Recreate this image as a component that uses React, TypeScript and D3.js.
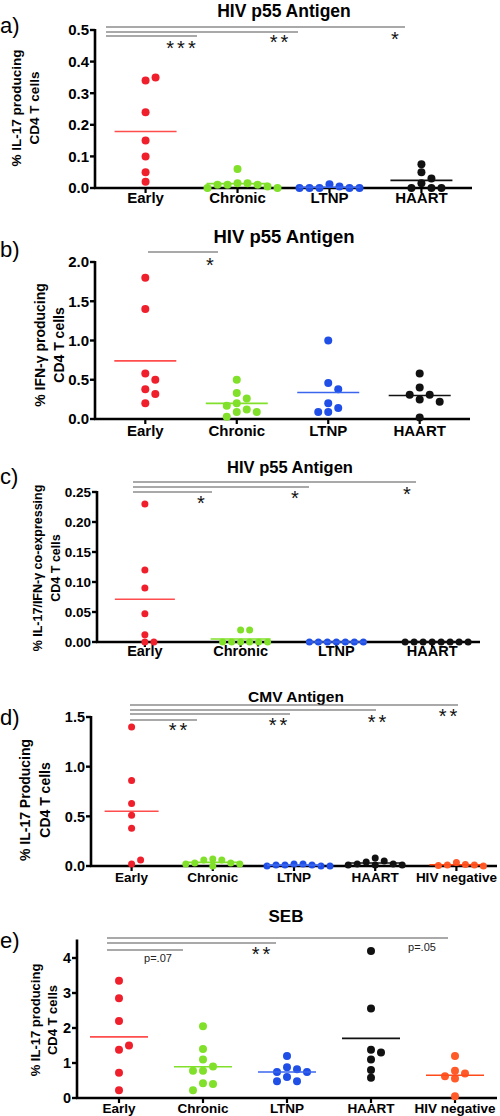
import React from "react";
import * as d3 from "d3";

const GROUPS4 = ["Early", "Chronic", "LTNP", "HAART"];
const GROUPS5 = ["Early", "Chronic", "LTNP", "HAART", "HIV negative"];
const DOT_COLORS = ["#f01f2c", "#80e02a", "#1f4fe6", "#111111", "#ff5a28"];
const MEAN_COLORS = ["#ff4d4d", "#80e02a", "#3a66ee", "#111111", "#ff4a1a"];

// a) HIV p55 – IL-17
const aEarly = [0.34, 0.35, 0.24, 0.15, 0.1, 0.05, 0.02];
const aChronic = [0.06, 0.015, 0.015, 0.01, 0.01, 0.01, 0.005, 0.0, 0.0];
const aLTNP = [0.012, 0.005, 0.0, 0.0, 0.0, 0.0, 0.0];
const aHAART = [0.075, 0.05, 0.03, 0.015, 0.0, 0.0, 0.0];
const aTicks = [0, 0.1, 0.2, 0.3, 0.4, 0.5];

// b) HIV p55 – IFN-γ
const bEarly = [1.8, 1.4, 0.58, 0.5, 0.38, 0.32, 0.2];
const bChronic = [0.5, 0.33, 0.26, 0.2, 0.17, 0.12, 0.09, 0.09, 0.03];
const bLTNP = [1.0, 0.46, 0.38, 0.2, 0.14, 0.09, 0.09];
const bHAART = [0.58, 0.4, 0.31, 0.31, 0.25, 0.22, 0.02];
const bTicks = [0, 0.5, 1.0, 1.5, 2.0];

// c) HIV p55 – IL-17/IFN-γ
const cEarly = [0.23, 0.12, 0.09, 0.047, 0.012, 0.0, 0.0];
const cChronic = [0.02, 0.02, 0.0, 0.0, 0.0, 0.0, 0.0, 0.0];
const cLTNP = [0, 0, 0, 0, 0, 0, 0];
const cHAART = [0, 0, 0, 0, 0, 0, 0, 0];
const cTicks = [0, 0.05, 0.1, 0.15, 0.2, 0.25];

// d) CMV – IL-17
const dEarly = [1.4, 0.86, 0.63, 0.51, 0.38, 0.02, 0.06];
const dChronic = [0.07, 0.06, 0.06, 0.03, 0.03, 0.02, 0.02, 0.0];
const dLTNP = [0.02, 0.02, 0.01, 0.01, 0.01, 0.0, 0.0, 0.0];
const dHAART = [0.08, 0.05, 0.04, 0.02, 0.02, 0.01, 0.01, 0.01];
const dNeg = [0.035, 0.015, 0.01, 0.01, 0.005, 0.0];
const dTicks = [0, 0.5, 1.0, 1.5];

// e) SEB – IL-17
const eEarly = [3.35, 2.85, 2.2, 1.38, 1.5, 0.72, 0.22];
const eChronic = [2.05, 1.4, 1.1, 0.9, 0.78, 0.78, 0.42, 0.4, 0.22];
const eLTNP = [1.2, 0.88, 0.82, 0.74, 0.74, 0.6, 0.48, 0.48];
const eHAART = [4.2, 2.56, 1.38, 1.3, 1.1, 0.8, 0.58];
const eNeg = [1.2, 0.78, 0.7, 0.62, 0.56, 0.05];
const eTicks = [0, 1, 2, 3, 4];

const FONT = "'Liberation Sans', Arial, Helvetica, sans-serif";

type Sig = { y: number; x2: number };
type Mark = { t: string; x: number; y: number; small?: boolean };
type PanelCfg = {
  groups: string[];
  series: number[][];
  yMax: number;
  yTopPx: number;
  yZeroPx: number;
  x0: number;
  x1: number;
  pad: number;
  ticks: number[];
  fmt: string;
  tickSize: number;
  title: string;
  titleX: number;
  titleY: number;
  titleSize: number;
  letter: string;
  letterY: number;
  labels: string[];
  labelX: number[];
  labelY: number;
  labelSize: number;
  xLabelY: number;
  xLabelSize: number;
  r: number;
  meanHalf: number;
  sigX: number;
  sigs: Sig[];
  marks: Mark[];
};

function dodge(values: number[], y: (v: number) => number, r: number, step: number) {
  const placed: { x: number; y: number }[] = [];
  return values.map((v) => {
    const py = y(v);
    for (let k = 0; k < 40; k++) {
      const off = k === 0 ? 0 : (k % 2 === 1 ? 1 : -1) * Math.ceil(k / 2) * step;
      if (placed.every((p) => Math.hypot(p.x - off, p.y - py) >= 2 * r * 0.95)) {
        placed.push({ x: off, y: py });
        return { v, dx: off, py };
      }
    }
    return { v, dx: 0, py };
  });
}

function Panel({ c }: { c: PanelCfg }) {
  const y = d3.scaleLinear().domain([0, c.yMax]).range([c.yZeroPx, c.yTopPx]);
  const x = d3.scalePoint<string>().domain(c.groups).range([c.x0, c.x1]).padding(c.pad);
  const fmt = d3.format(c.fmt);
  const y0 = y(0);
  return (
    <g fontFamily={FONT}>
      <text x={c.titleX} y={c.titleY} textAnchor="middle" fontSize={c.titleSize} fontWeight="bold">
        {c.title}
      </text>
      <text x={0} y={c.letterY} fontSize={22}>
        {c.letter}
      </text>
      {c.labels.map((l, i) => (
        <text
          key={i}
          transform={`translate(${c.labelX[i]},${c.labelY}) rotate(-90)`}
          textAnchor="middle"
          dominantBaseline="central"
          fontSize={c.labelSize}
          fontWeight="bold"
        >
          {l}
        </text>
      ))}
      {/* y axis */}
      <line x1={c.x0} x2={c.x0} y1={y(c.yMax) - 1} y2={y0} stroke="#000" strokeWidth={2.6} />
      {c.ticks.map((t) => (
        <g key={t}>
          <line x1={c.x0 - 5} x2={c.x0} y1={y(t)} y2={y(t)} stroke="#000" strokeWidth={2.4} />
          <text
            x={c.x0 - 6}
            y={y(t)}
            dy="0.36em"
            textAnchor="end"
            fontSize={c.tickSize}
            fontWeight="bold"
          >
            {fmt(t)}
          </text>
        </g>
      ))}
      {/* x axis */}
      <line x1={c.x0 - 1} x2={c.x1} y1={y0} y2={y0} stroke="#000" strokeWidth={2.6} />
      {c.groups.map((g) => (
        <g key={g}>
          <line x1={x(g)!} x2={x(g)!} y1={y0} y2={y0 + 5} stroke="#000" strokeWidth={2.2} />
          <text
            x={x(g)!}
            y={c.xLabelY}
            textAnchor="middle"
            fontSize={c.xLabelSize}
            fontWeight="bold"
          >
            {g}
          </text>
        </g>
      ))}
      {/* dots and means */}
      {c.series.map((vals, i) => {
        const cx = x(c.groups[i])!;
        const pts = dodge(vals, y, c.r, 2 * c.r + 2);
        const m = d3.mean(vals)!;
        return (
          <g key={i}>
            {pts.map((p, j) => (
              <circle key={j} cx={cx + p.dx} cy={p.py} r={c.r} fill={DOT_COLORS[i]} />
            ))}
            <line
              x1={cx - c.meanHalf}
              x2={cx + c.meanHalf}
              y1={y(m)}
              y2={y(m)}
              stroke={MEAN_COLORS[i]}
              strokeWidth={1.6}
            />
          </g>
        );
      })}
      {/* significance */}
      {c.sigs.map((s, i) => (
        <line key={i} x1={c.sigX} x2={s.x2} y1={s.y} y2={s.y} stroke="#555" strokeWidth={1.2} />
      ))}
      {c.marks.map((m, i) =>
        m.small ? (
          <text key={i} x={m.x} y={m.y + 4} textAnchor="middle" fontSize={11} fill="#222">
            {m.t}
          </text>
        ) : (
          <text
            key={i}
            x={m.x}
            dx={1.5}
            y={m.y + 11}
            textAnchor="middle"
            fontSize={20}
            letterSpacing={3}
            fill="#111"
          >
            {m.t}
          </text>
        )
      )}
    </g>
  );
}

const panels: PanelCfg[] = [
  {
    groups: GROUPS4,
    series: [aEarly, aChronic, aLTNP, aHAART],
    yMax: 0.5,
    yTopPx: 30,
    yZeroPx: 188,
    x0: 95,
    x1: 472,
    pad: 0.55,
    ticks: aTicks,
    fmt: ".1f",
    tickSize: 15,
    title: "HIV p55 Antigen",
    titleX: 284,
    titleY: 17,
    titleSize: 17.5,
    letter: "a)",
    letterY: 33,
    labels: ["% IL-17 producing", "CD4 T cells"],
    labelX: [16, 34],
    labelY: 108,
    labelSize: 13.5,
    xLabelY: 203,
    xLabelSize: 15,
    r: 4,
    meanHalf: 31,
    sigX: 106,
    sigs: [
      { y: 27, x2: 405 },
      { y: 32, x2: 298 },
      { y: 36, x2: 197 },
    ],
    marks: [
      { t: "***", x: 181, y: 44 },
      { t: "**", x: 279, y: 38 },
      { t: "*", x: 395, y: 35 },
    ],
  },
  {
    groups: GROUPS4,
    series: [bEarly, bChronic, bLTNP, bHAART],
    yMax: 2.0,
    yTopPx: 262,
    yZeroPx: 419,
    x0: 95,
    x1: 470,
    pad: 0.55,
    ticks: bTicks,
    fmt: ".1f",
    tickSize: 15,
    title: "HIV p55 Antigen",
    titleX: 284,
    titleY: 243,
    titleSize: 18.5,
    letter: "b)",
    letterY: 257,
    labels: ["% IFN-γ producing", "CD4 T cells"],
    labelX: [40, 59],
    labelY: 345,
    labelSize: 14,
    xLabelY: 436,
    xLabelSize: 15,
    r: 4,
    meanHalf: 31,
    sigX: 148,
    sigs: [{ y: 252, x2: 218 }],
    marks: [{ t: "*", x: 210, y: 261 }],
  },
  {
    groups: GROUPS4,
    series: [cEarly, cChronic, cLTNP, cHAART],
    yMax: 0.25,
    yTopPx: 492,
    yZeroPx: 642,
    x0: 97,
    x1: 480,
    pad: 0.5,
    ticks: cTicks,
    fmt: ".2f",
    tickSize: 13.5,
    title: "HIV p55 Antigen",
    titleX: 290,
    titleY: 473,
    titleSize: 16.5,
    letter: "c)",
    letterY: 484,
    labels: ["% IL-17/IFN-γ co-expressing", "CD4 T cells"],
    labelX: [38, 56],
    labelY: 568,
    labelSize: 12.5,
    xLabelY: 656,
    xLabelSize: 14.5,
    r: 3.5,
    meanHalf: 30,
    sigX: 133,
    sigs: [
      { y: 482, x2: 416 },
      { y: 487, x2: 309 },
      { y: 492, x2: 212 },
    ],
    marks: [
      { t: "*", x: 201, y: 499 },
      { t: "*", x: 295, y: 494 },
      { t: "*", x: 407, y: 490 },
    ],
  },
  {
    groups: GROUPS5,
    series: [dEarly, dChronic, dLTNP, dHAART, dNeg],
    yMax: 1.5,
    yTopPx: 717,
    yZeroPx: 866,
    x0: 91,
    x1: 497,
    pad: 0.5,
    ticks: dTicks,
    fmt: ".1f",
    tickSize: 14.5,
    title: "CMV Antigen",
    titleX: 296,
    titleY: 702,
    titleSize: 15.5,
    letter: "d)",
    letterY: 725,
    labels: ["% IL-17 Producing", "CD4 T cells"],
    labelX: [25, 45],
    labelY: 800,
    labelSize: 14,
    xLabelY: 882,
    xLabelSize: 13.5,
    r: 3.5,
    meanHalf: 27,
    sigX: 130,
    sigs: [
      { y: 705, x2: 458 },
      { y: 710, x2: 376 },
      { y: 714, x2: 290 },
      { y: 720, x2: 197 },
    ],
    marks: [
      { t: "**", x: 178, y: 726 },
      { t: "**", x: 278, y: 721 },
      { t: "**", x: 377, y: 718 },
      { t: "**", x: 448, y: 712 },
    ],
  },
  {
    groups: GROUPS5,
    series: [eEarly, eChronic, eLTNP, eHAART, eNeg],
    yMax: 4.5,
    yTopPx: 940.5,
    yZeroPx: 1098,
    x0: 77,
    x1: 497,
    pad: 0.5,
    ticks: eTicks,
    fmt: "d",
    tickSize: 14.5,
    title: "SEB",
    titleX: 286,
    titleY: 922,
    titleSize: 17,
    letter: "e)",
    letterY: 948,
    labels: ["% IL-17 producing", "CD4 T cells"],
    labelX: [35, 52],
    labelY: 1020,
    labelSize: 13,
    xLabelY: 1113,
    xLabelSize: 13.5,
    r: 4,
    meanHalf: 29,
    sigX: 107,
    sigs: [
      { y: 938, x2: 448 },
      { y: 943, x2: 276 },
      { y: 950, x2: 183 },
    ],
    marks: [
      { t: "p=.07", x: 158, y: 958, small: true },
      { t: "**", x: 261, y: 950 },
      { t: "p=.05", x: 422, y: 947, small: true },
    ],
  },
];

export default function App() {
  return (
    <svg
      width={500}
      height={1116}
      viewBox="0 0 500 1116"
      style={{ position: "absolute", left: 0, top: 0, background: "#fff" }}
    >
      <rect width={500} height={1116} fill="#fff" />
      {panels.map((p, i) => (
        <Panel key={i} c={p} />
      ))}
    </svg>
  );
}
